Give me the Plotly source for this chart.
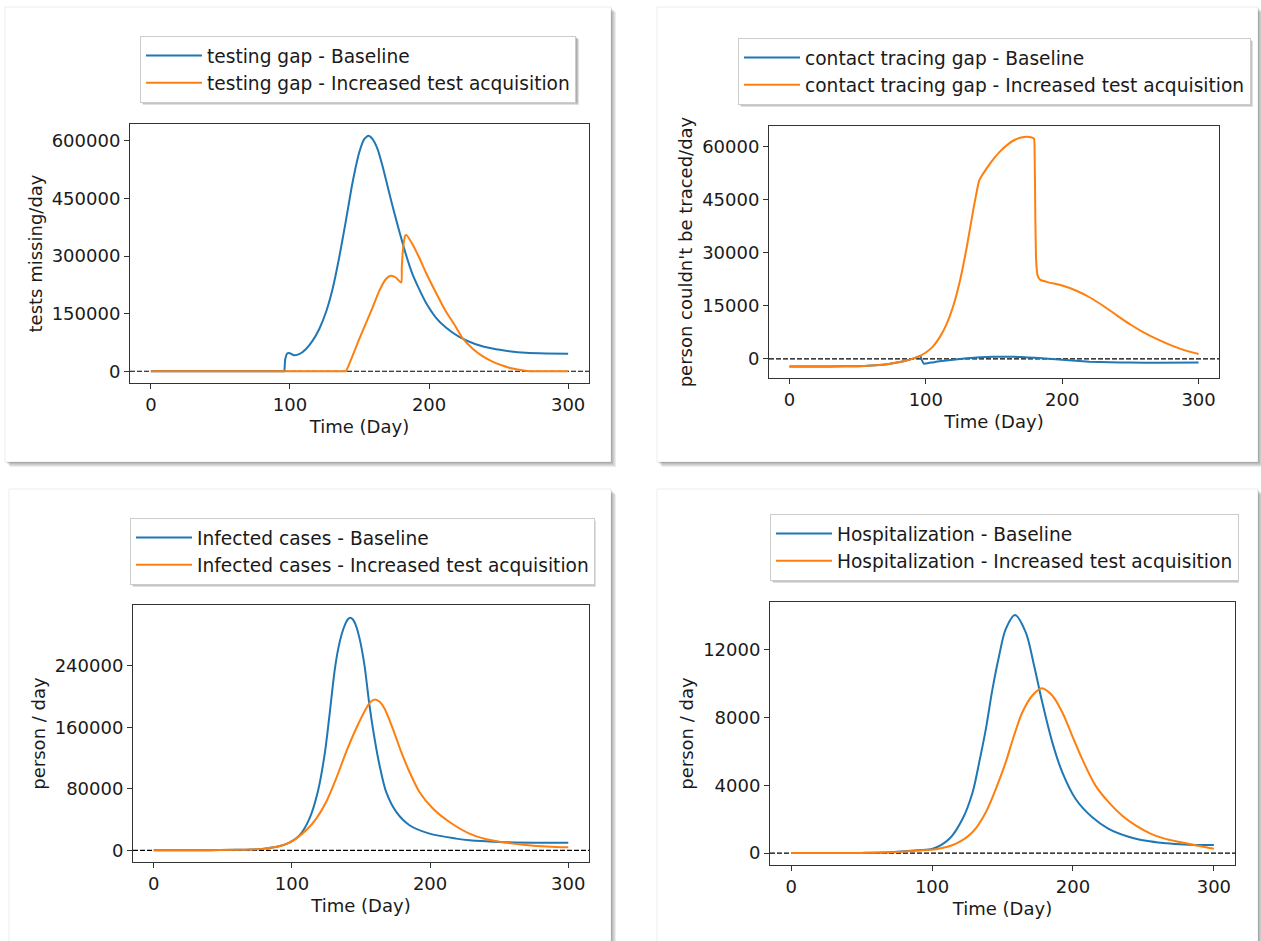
import plotly.graph_objects as go

W, H = 1261, 941
BLUE = "#1f77b4"
ORANGE = "#ff7f0e"
FONT = "DejaVu Sans"

# ---------------- data ----------------
x_ticks = [0, 100, 200, 300]

# Panel 1: testing gap (tests missing/day)
test_days_base = [0, 95.5, 95.9, 96.6, 98.2, 99.9, 103, 106.6, 111.4, 116.2, 121, 125.8, 130.6, 135.4,
                  140.2, 145, 149.8, 153.4, 156.5, 159.4, 163, 166.5, 170.1, 173.7, 178.5, 183.3,
                  188.1, 192.9, 197.7, 204.9, 212.1, 221.7, 233.6, 245.6, 257.6, 269.6, 284, 300]
test_gap_base = [0, 0, 0, 31300, 46900, 46900, 41700, 44300, 57300, 79000, 109400, 152800, 213600, 296100,
                 391600, 491500, 569600, 604300, 613000, 604300, 578300, 534900, 482800, 430700, 365600, 304800,
                 252700, 213600, 178900, 139800, 113700, 89400, 70300, 59000, 52100, 47800, 46000, 45200]
test_days_inc = [0, 139.6, 140.2, 149.8, 159.4, 164.2, 168.9, 172.5, 176.1, 180, 180.4, 181.4, 182.8, 183.8,
                 188.1, 192.9, 197.7, 204.9, 212.1, 218.1, 224.1, 231.2, 238.4, 245.6, 252.8, 260,
                 267.2, 273.2, 274, 300]
test_gap_inc = [0, 0, 0, 83400, 165800, 209300, 239600, 248300, 244000, 231000, 270000, 322100, 352500, 354300,
                330800, 296100, 257000, 204900, 155400, 122400, 86000, 59000, 39100, 25200, 14800, 6900,
                2600, 0, 0, 0]
test_yticks = [0, 150000, 300000, 450000, 600000]

# Panel 2: contact tracing gap (person couldn't be traced/day)
trace_days_base = [0, 30, 50, 60, 70, 80, 85, 90, 95, 96, 97, 98.5, 100, 105, 110, 120, 130, 140, 150,
                   160, 170, 180, 190, 200, 210, 220, 235, 250, 270, 300]
trace_gap_base = [-2150, -2150, -2050, -1900, -1600, -950, -550, 0, 700, 850, -300, -1350, -1300, -1000,
                  -700, -250, 150, 450, 600, 620, 500, 300, 50, -250, -550, -780, -950, -1050, -1080, -1050]
trace_days_inc = [0, 30, 50, 60, 70, 80, 85, 90, 95, 100, 105, 110, 115, 120, 125, 130, 135, 139, 140,
                  145, 150, 155, 160, 165, 170, 174, 177, 179.3, 179.8, 180.3, 180.8, 181.3, 182, 184,
                  190, 200, 210, 220, 230, 240, 250, 260, 270, 280, 290, 300]
trace_gap_inc = [-2150, -2150, -2050, -1900, -1600, -950, -550, 0, 700, 1800, 3400, 6000, 9600, 14800,
                 22000, 31500, 42500, 50200, 51000, 54000, 56600, 58800, 60500, 61800, 62500, 62700,
                 62600, 62200, 58000, 40000, 29000, 25500, 23500, 22300, 21600, 20700, 19300, 17400,
                 15000, 12300, 9700, 7400, 5500, 3800, 2400, 1400]
trace_yticks = [0, 15000, 30000, 45000, 60000]

# Panel 3: infected cases (person / day)
inf_days_base = [0, 40, 60, 70, 80, 90, 98.2, 105.5, 112.7, 118.7, 123.6, 127.2, 130.8, 133.5, 136,
                 138.5, 140.5, 142.2, 144, 146, 148.9, 152.5, 156.1, 159.8, 163.4, 168.2, 175.5, 185.1,
                 199.6, 218.9, 228.5, 250, 275, 300]
inf_base = [0, 200, 600, 1000, 2200, 5000, 10000, 19500, 41300, 75900, 123700, 175800, 232200, 262000,
            281000, 294000, 300500, 302500, 300500, 294000, 276000, 240900, 188800, 145400, 110700, 75900,
            49900, 32600, 21700, 15200, 13000, 10900, 10000, 10000]
inf_days_inc = [0, 40, 60, 70, 80, 90, 98.2, 103.1, 110.3, 117.6, 124.8, 132, 139.3, 146.5, 153.7,
                157, 160.2, 163.5, 167, 173, 179.1, 185.1, 192.3, 202, 214, 228.5, 240, 250, 260, 275, 300]
inf_inc = [0, 200, 600, 1000, 2200, 5000, 10000, 15200, 26000, 41300, 62900, 93300, 128000, 158400,
           184500, 193200, 196200, 193200, 184500, 158400, 128000, 101900, 75900, 54300, 36800, 21700,
           14800, 11300, 8700, 6100, 3900]
inf_yticks = [0, 80000, 160000, 240000]

# Panel 4: hospitalization (person / day)
hosp_days_base = [0, 50, 70, 80, 90, 100.5, 112.3, 121.7, 128.8, 133.5, 138.2, 142.9, 147.6, 152.3,
                  158.9, 166.5, 172.4, 178.2, 185.3, 192.4, 201.8, 213.5, 225.3, 240, 252, 264, 276,
                  288, 300]
hosp_base = [0, 10, 40, 100, 170, 250, 840, 2020, 3590, 5360, 7320, 9680, 11640, 13210, 14040, 13020,
             11060, 8890, 6540, 4770, 3200, 2120, 1430, 950, 720, 590, 520, 480, 470]
hosp_days_inc = [0, 50, 70, 80, 90, 102.9, 117, 128.8, 138.2, 145.3, 152.3, 158.2, 164.1, 171.2, 177.8,
                 185.3, 192.4, 199.4, 206.5, 215.9, 225.3, 235, 245, 255, 265, 275.8, 287.6, 300]
hosp_inc = [0, 10, 40, 90, 150, 220, 550, 1240, 2410, 3790, 5360, 6930, 8300, 9290, 9720, 9290, 8300,
            6930, 5550, 3990, 3000, 2200, 1600, 1150, 850, 650, 450, 255]
hosp_yticks = [0, 4000, 8000, 12000]

labels = [
    ("testing gap - Baseline", "testing gap - Increased test acquisition"),
    ("contact tracing gap - Baseline", "contact tracing gap - Increased test acquisition"),
    ("Infected cases - Baseline", "Infected cases - Increased test acquisition"),
    ("Hospitalization - Baseline", "Hospitalization - Increased test acquisition"),
]
y_titles = ["tests missing/day", "person couldn't be traced/day", "person / day", "person / day"]

# ---------------- layout geometry (pixels) ----------------
def px(x):
    return x / W

def py(y):
    return 1 - y / H

axes_px = [  # (left, top, right, bottom)
    (130, 124, 589, 383),
    (769, 126, 1219, 378),
    (133, 605, 589, 862),
    (770, 602, 1235, 865),
]
y_ranges = [(-30650, 643650), (-5400, 65750), (-15200, 319100), (-705, 14805)]
legend_pos = [(140, 36), (738, 38), (130, 518), (770, 514)]
legend_box = [(140, 36, 576, 102), (738, 38, 1250, 104), (130, 518, 593, 584), (770, 514, 1236, 580)]
cards = [(5, 7, 611, 462), (657, 7, 1258, 462), (9, 489, 611, 990), (657, 489, 1258, 990)]

series = [
    (test_days_base, test_gap_base, test_days_inc, test_gap_inc, test_yticks),
    (trace_days_base, trace_gap_base, trace_days_inc, trace_gap_inc, trace_yticks),
    (inf_days_base, inf_base, inf_days_inc, inf_inc, inf_yticks),
    (hosp_days_base, hosp_base, hosp_days_inc, hosp_inc, hosp_yticks),
]
smooth = [0.6, 0.5, 0.8, 0.9]

fig = go.Figure()
shapes = []

# cards with soft shadows
for (x0, y0, x1, y1) in cards:
    for k in range(1, 6):
        shapes.append(dict(type="rect", xref="paper", yref="paper", layer="below",
                           x0=px(x0 + k), x1=px(x1 + k), y0=py(y0 + k), y1=py(y1 + k),
                           fillcolor="rgba(0,0,0,0.07)", line=dict(width=0)))
    shapes.append(dict(type="rect", xref="paper", yref="paper", layer="below",
                       x0=px(x0), x1=px(x1), y0=py(y0), y1=py(y1),
                       fillcolor="white", line=dict(color="rgba(0,0,0,0.07)", width=1)))

# legend drop shadows (drawn under the legend boxes)
for (x0, y0, x1, y1) in legend_box:
    for k in (1, 2, 3):
        shapes.append(dict(type="rect", xref="paper", yref="paper", layer="above",
                           x0=px(x0 + k), x1=px(x1 + k), y0=py(y0 + k), y1=py(y1 + k),
                           fillcolor="rgba(0,0,0,0.12)", line=dict(width=0)))

for i, (dx_b, yb, dx_i, yi, yt) in enumerate(series):
    n = "" if i == 0 else str(i + 1)
    leg = "legend" if i == 0 else f"legend{i + 1}"
    fig.add_trace(go.Scatter(x=dx_b, y=yb, mode="lines", name=labels[i][0],
                             line=dict(color=BLUE, width=2, shape="spline", smoothing=smooth[i]),
                             xaxis="x" + n, yaxis="y" + n, legend=leg))
    fig.add_trace(go.Scatter(x=dx_i, y=yi, mode="lines", name=labels[i][1],
                             line=dict(color=ORANGE, width=2, shape="spline", smoothing=smooth[i]),
                             xaxis="x" + n, yaxis="y" + n, legend=leg))
    l, t, r, b = axes_px[i]
    common = dict(showline=True, mirror=True, linecolor="#333333", linewidth=1,
                  ticks="outside", ticklen=5, tickwidth=1, tickcolor="#333333",
                  showgrid=False, zeroline=False,
                  tickfont=dict(family=FONT, size=18, color="#1a1a1a"))
    fig.layout["xaxis" + n] = dict(domain=[px(l), px(r)], anchor="y" + n, range=[-15, 315],
                                   tickmode="array", tickvals=x_ticks,
                                   ticktext=[str(v) for v in x_ticks],
                                   title=dict(text="Time (Day)", standoff=6,
                                              font=dict(family=FONT, size=18, color="#1a1a1a")),
                                   **common)
    fig.layout["yaxis" + n] = dict(domain=[py(b), py(t)], anchor="x" + n, range=list(y_ranges[i]),
                                   tickmode="array", tickvals=yt, ticktext=[str(v) for v in yt],
                                   title=dict(text=y_titles[i], standoff=4,
                                              font=dict(family=FONT, size=18, color="#1a1a1a")),
                                   **common)
    xr = "x" + n
    yr = "y" + n
    shapes.append(dict(type="line", xref=xr + " domain", yref=yr, x0=0, x1=1, y0=0, y1=0,
                       layer="below", line=dict(color="black", width=1.2, dash="5px,2px")))
    lx, ly = legend_pos[i]
    fig.layout[leg] = dict(x=px(lx), y=py(ly), xanchor="left", yanchor="top",
                           bgcolor="white", bordercolor="#cccccc", borderwidth=1,
                           font=dict(family=FONT, size=18.6, color="#1a1a1a"),
                           itemwidth=56, tracegroupgap=0)

fig.update_layout(width=W, height=H, autosize=False,
                  margin=dict(l=0, r=0, t=0, b=0),
                  paper_bgcolor="white", plot_bgcolor="white",
                  font=dict(family=FONT, size=18, color="#1a1a1a"),
                  showlegend=True, shapes=shapes)

fig.write_html("out.html")
